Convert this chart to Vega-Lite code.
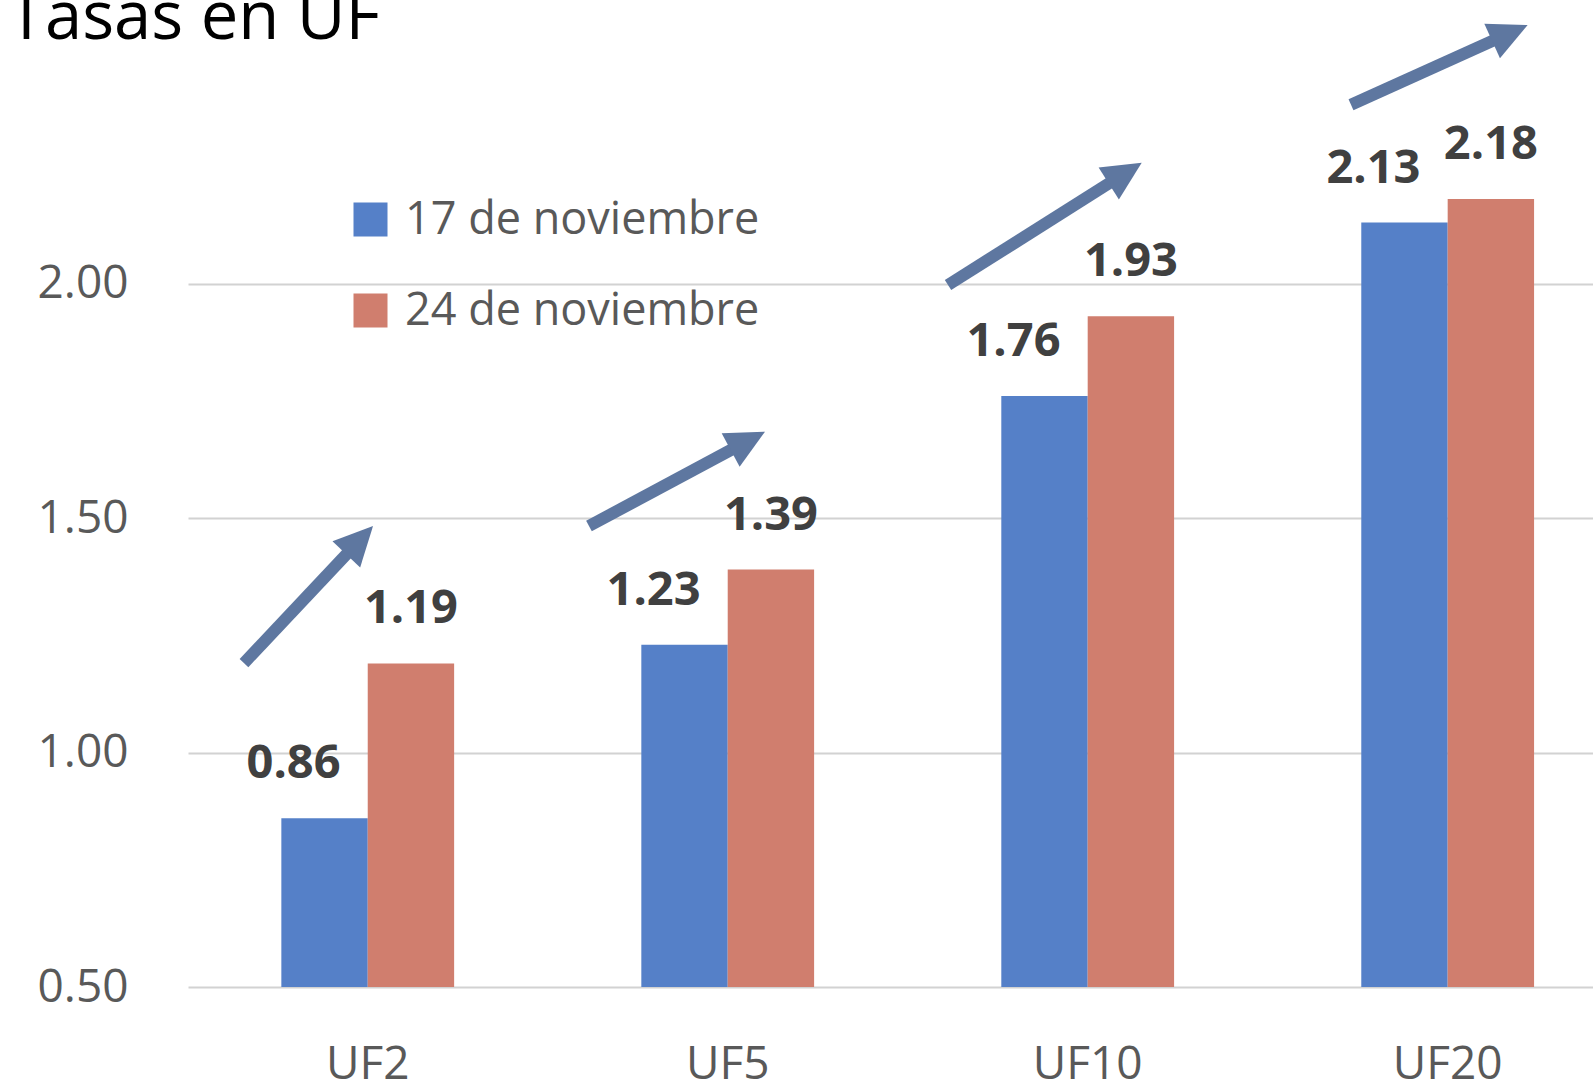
{
  "$schema": "https://vega.github.io/schema/vega-lite/v6.json",
  "autosize": {"type": "none"},
  "width": 1405,
  "height": 938,
  "padding": {"left": 188, "top": 49, "right": 0, "bottom": 100},
  "background": "white",
  "config": {"view": {"stroke": null}, "font": "Open Sans"},
  "title": {"text": "Tasas en UF", "anchor": "start", "frame": "group", "fontSize": 67, "fontWeight": "normal", "color": "#000000", "baseline": "alphabetic", "offset": 11, "dx": -180, "dy": 93, "font": "Open Sans"},
  "layer": [
    {
      "data": {"values": [
        {"cat": "UF2", "serie": "17 de noviembre", "val": 0.86},
        {"cat": "UF2", "serie": "24 de noviembre", "val": 1.19},
        {"cat": "UF5", "serie": "17 de noviembre", "val": 1.23},
        {"cat": "UF5", "serie": "24 de noviembre", "val": 1.39},
        {"cat": "UF10", "serie": "17 de noviembre", "val": 1.76},
        {"cat": "UF10", "serie": "24 de noviembre", "val": 1.93},
        {"cat": "UF20", "serie": "17 de noviembre", "val": 2.13},
        {"cat": "UF20", "serie": "24 de noviembre", "val": 2.18}
      ]},
      "encoding": {
        "x": {"field": "cat", "type": "nominal", "sort": ["UF2", "UF5", "UF10", "UF20"],
              "scale": {"paddingInner": 0.52, "paddingOuter": 0.2115, "align": 0.613, "round": false},
              "axis": {"title": null, "labelAngle": 0, "labelFontSize": 46, "labelColor": "#595959", "labelFont": "Open Sans", "labelPadding": 55, "ticks": false, "domain": false, "grid": false}},
        "xOffset": {"field": "serie", "type": "nominal", "sort": ["17 de noviembre", "24 de noviembre"], "scale": {"paddingInner": 0, "paddingOuter": 0, "round": false}},
        "y": {"field": "val", "type": "quantitative",
              "scale": {"domain": [0.5, 2.5], "nice": false, "zero": false},
              "axis": {"title": null, "values": [0.5, 1, 1.5, 2], "format": ".2f", "labelFontSize": 46, "labelColor": "#595959", "labelFont": "Open Sans", "labelPadding": 60, "ticks": false, "domain": false, "grid": true, "gridColor": "#D2D2D2", "gridWidth": 2}}
      },
      "layer": [
        {
          "mark": {"type": "bar"},
          "encoding": {
            "y2": {"datum": 0.5},
            "color": {"field": "serie", "type": "nominal",
                      "scale": {"domain": ["17 de noviembre", "24 de noviembre"], "range": ["#5580C8", "#D07E6E"]},
                      "legend": {"orient": "none", "legendX": 160, "legendY": 148, "title": null, "symbolType": "square", "symbolSize": 1156, "symbolStrokeWidth": 0, "symbolOpacity": 1, "labelFontSize": 45, "labelColor": "#595959", "labelFont": "Open Sans", "labelOffset": 12, "labelLimit": 0, "rowPadding": 45, "padding": 0}}
          }
        },
        {
          "transform": [{"filter": "datum.serie === '17 de noviembre'"}],
          "mark": {"type": "text", "font": "Open Sans", "fontWeight": "bold", "fontSize": 47, "color": "#404040", "baseline": "alphabetic", "align": "center", "dy": -40, "dx": -31},
          "encoding": {"text": {"field": "val", "type": "quantitative", "format": ".2f"}}
        },
        {
          "transform": [{"filter": "datum.serie === '24 de noviembre'"}],
          "mark": {"type": "text", "font": "Open Sans", "fontWeight": "bold", "fontSize": 47, "color": "#404040", "baseline": "alphabetic", "align": "center", "dy": -40},
          "encoding": {"text": {"field": "val", "type": "quantitative", "format": ".2f"}}
        }
      ]
    },
    {
      "data": {"values": [
        {"flecha": "UF2", "x0": -0.3439, "y0": 1.1908, "x1": -0.0144, "y1": 1.4593, "angle": 313.3},
        {"flecha": "UF5", "x0": 0.6144, "y0": 1.4829, "x1": 1.0661, "y1": 1.6687, "angle": 331.8},
        {"flecha": "UF10", "x0": 1.6117, "y0": 1.9968, "x1": 2.114, "y1": 2.2403, "angle": 327.7},
        {"flecha": "UF20", "x0": 2.7311, "y0": 2.3812, "x1": 3.1833, "y1": 2.5378, "angle": 335.7}
      ]},
      "layer": [
        {
          "mark": {"type": "rule", "strokeWidth": 12, "strokeCap": "butt", "color": "#5E77A0"},
          "encoding": {
            "x": {"field": "x0", "type": "quantitative", "scale": {"domain": [-0.4994, 3.4033], "nice": false, "zero": false}, "axis": null},
            "y": {"field": "y0", "type": "quantitative", "scale": {"domain": [0.5, 2.5], "nice": false, "zero": false}, "title": null},
            "x2": {"field": "x1"},
            "y2": {"field": "y1"}
          }
        },
        {
          "mark": {"type": "point", "filled": true, "shape": "M0.8,0L-1.25,-1L-1.25,1Z", "size": 1444, "color": "#5E77A0", "opacity": 1, "strokeWidth": 0},
          "encoding": {
            "x": {"field": "x1", "type": "quantitative", "scale": {"domain": [-0.4994, 3.4033], "nice": false, "zero": false}, "axis": null},
            "y": {"field": "y1", "type": "quantitative", "scale": {"domain": [0.5, 2.5], "nice": false, "zero": false}, "title": null},
            "angle": {"field": "angle", "type": "quantitative", "scale": null}
          }
        }
      ]
    }
  ],
  "resolve": {"scale": {"x": "independent"}}
}
